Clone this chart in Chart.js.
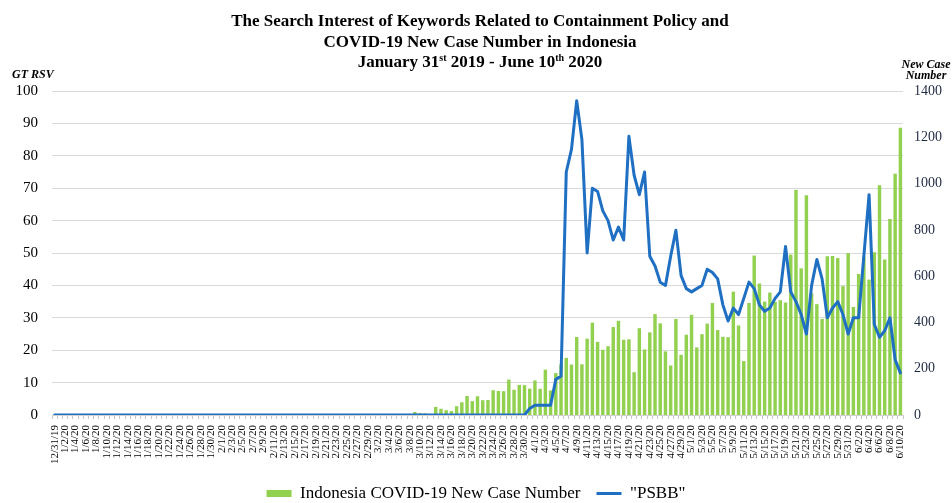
<!DOCTYPE html>
<html>
<head>
<meta charset="utf-8">
<script src="https://cdn.jsdelivr.net/npm/chart.js@4"></script>
<style>
  body { margin: 0; background: #fff; }
  canvas { display: block; }
</style>
</head>
<body>
<canvas id="trendChart" width="952" height="503"></canvas>
<script>
// daily categories 12/31/19 .. 6/10/20
var dateLabels = [];
var day = new Date(Date.UTC(2019, 11, 31));
var lastDay = Date.UTC(2020, 5, 10);
while (day.getTime() <= lastDay) {
    var yy = String(day.getUTCFullYear()).slice(2);
    dateLabels.push((day.getUTCMonth() + 1) + '/' + day.getUTCDate() + '/' + yy);
    day.setUTCDate(day.getUTCDate() + 1);
}

// Indonesia COVID-19 new cases (right axis)
var newCases = [
    0, 0, 0, 0, 0, 0, 0, 0, 0, 0, 0, 0, 0, 0, 0, 0, 0, 0, 0, 0, 0, 0, 0, 0, 0, 0, 0, 0, 0, 0, 0,
    0, 0, 0, 0, 0, 0, 0, 0, 0, 0, 0, 0, 0, 0, 0, 0, 0, 0, 0, 0, 0, 0, 0, 0, 0, 0, 0, 0, 0, 0, 0,
    2, 0, 0, 0, 2, 0, 2, 13, 8, 7, 0, 35, 27, 21, 17, 38, 55, 82, 60, 81, 64, 65, 107, 104, 103, 153, 109, 130, 129, 114,
    149, 113, 196, 106, 181, 218, 247, 218, 337, 219, 330, 399, 316, 282, 297, 380, 407, 325, 327, 185, 375, 283, 357, 436, 396, 275, 214, 415, 260, 347,
    433, 292, 349, 395, 484, 367, 338, 336, 533, 387, 233, 484, 689, 568, 490, 529, 489, 496, 486, 693, 973, 634, 949, 526, 479, 415, 686, 687, 678, 557, 700,
    467, 609, 684, 585, 703, 993, 672, 847, 1043, 1241
];

// Google Trends RSV for "PSBB" (left axis)
var psbbRsv = [
    0, 0, 0, 0, 0, 0, 0, 0, 0, 0, 0, 0, 0, 0, 0, 0, 0, 0, 0, 0, 0, 0, 0, 0, 0, 0, 0, 0, 0, 0,
    0, 0, 0, 0, 0, 0, 0, 0, 0, 0, 0, 0, 0, 0, 0, 0, 0, 0, 0, 0, 0, 0, 0, 0, 0, 0, 0, 0, 0, 0,
    0, 0, 0, 0, 0, 0, 0, 0, 0, 0, 0, 0, 0, 0, 0, 0, 0, 0, 0, 0, 0, 0, 0, 0, 0, 0, 0, 0, 0, 0,
    0, 2, 3, 3, 3, 3, 11, 12, 75, 82,
    97, 85, 50, 70, 69, 63, 60, 54, 58, 54,
    86, 74, 68, 75, 49, 46, 41, 40, 49, 57,
    43, 39, 38, 39, 40, 45, 44, 42, 34, 29,
    33, 31, 36, 41, 39, 34, 32, 33, 36, 38,
    52, 38, 35, 31, 25, 40, 48, 42, 30, 33,
    35, 31, 25, 30, 30, 49, 68, 28, 24, 26,
    30, 17, 13
];

var rsvTicks = [0, 10, 20, 30, 40, 50, 60, 70, 80, 90, 100];
var caseTicks = [0, 200, 400, 600, 800, 1000, 1200, 1400];

var serif = '"Liberation Serif", "Times New Roman", serif';

// title (with superscripts) and the two axis captions
var headerPlugin = {
    id: 'header',
    afterDraw: function(chart) {
        var ctx = chart.ctx;
        var cx = 480;
        ctx.save();
        ctx.fillStyle = '#000';
        ctx.textBaseline = 'alphabetic';
        ctx.textAlign = 'center';
        ctx.font = 'bold 17px ' + serif;
        ctx.fillText('The Search Interest of Keywords Related to Containment Policy and', cx, 26);
        ctx.fillText('COVID-19 New Case Number in Indonesia', cx, 47);

        var parts = [
            ['January 31', false], ['st', true], [' 2019 - June 10', false], ['th', true], [' 2020', false]
        ];
        var big = 'bold 17px ' + serif, small = 'bold 10px ' + serif;
        var total = 0;
        parts.forEach(function(p) {
            ctx.font = p[1] ? small : big;
            total += ctx.measureText(p[0]).width;
        });
        var x = cx - total / 2;
        ctx.textAlign = 'left';
        parts.forEach(function(p) {
            ctx.font = p[1] ? small : big;
            ctx.fillText(p[0], x, p[1] ? 61 : 67);
            x += ctx.measureText(p[0]).width;
        });

        ctx.font = 'italic bold 12px ' + serif;
        ctx.fillText('GT RSV', 12, 78);
        ctx.textAlign = 'center';
        ctx.fillText('New Case', 926, 68);
        ctx.fillText('Number', 926, 79);
        ctx.restore();
    }
};

var chartOptions = {
    type: 'bar',
    data: {
        labels: dateLabels,
        datasets: [{
            type: 'bar',
            label: 'Indonesia COVID-19 New Case Number',
            data: newCases,
            yAxisID: 'yCases',
            backgroundColor: '#92d050',
            borderWidth: 0,
            barPercentage: 0.66,
            categoryPercentage: 1.0,
            pointStyle: 'rect',
            order: 2
        }, {
            type: 'line',
            label: '"PSBB"',
            data: psbbRsv,
            yAxisID: 'yRsv',
            borderColor: '#1f6fc2',
            backgroundColor: '#1f6fc2',
            borderWidth: 3,
            borderJoinStyle: 'round',
            borderCapStyle: 'round',
            pointRadius: 0,
            tension: 0,
            pointStyle: 'line',
            order: 1
        }]
    },
    options: {
        responsive: false,
        animation: false,
        devicePixelRatio: 1,
        layout: {
            padding: { top: 91, left: 0, right: 0, bottom: -9 }
        },
        plugins: {
            title: { display: false },
            tooltip: { enabled: false },
            legend: {
                position: 'bottom',
                labels: {
                    usePointStyle: true,
                    pointStyleWidth: 25,
                    boxHeight: 7,
                    padding: 16,
                    color: '#000',
                    font: { family: serif, size: 17 },
                    sort: function(a, b) { return a.datasetIndex - b.datasetIndex; }
                }
            }
        },
        scales: {
            x: {
                offset: true,
                grid: {
                    offset: true,
                    drawOnChartArea: false,
                    drawTicks: true,
                    tickLength: 4,
                    color: '#c8c8c8'
                },
                border: { color: '#d0d0d0' },
                ticks: {
                    autoSkip: false,
                    minRotation: 90,
                    maxRotation: 90,
                    padding: 6,
                    color: '#000',
                    font: { family: serif, size: 11 },
                    callback: function(value, index) {
                        return index % 2 === 0 ? dateLabels[index] : '';
                    }
                },
                afterFit: function(scale) { scale.height = 54; }
            },
            yRsv: {
                position: 'left',
                min: 0,
                max: 100,
                afterBuildTicks: function(scale) {
                    scale.ticks = rsvTicks.map(function(v) { return { value: v }; });
                },
                grid: { color: '#d9d9d9', drawTicks: false },
                border: { display: false },
                ticks: {
                    padding: 14,
                    color: '#000',
                    font: { family: serif, size: 15 }
                },
                afterFit: function(scale) { scale.width = 52; }
            },
            yCases: {
                position: 'right',
                min: 0,
                max: 1400,
                afterBuildTicks: function(scale) {
                    scale.ticks = caseTicks.map(function(v) { return { value: v }; });
                },
                grid: { display: false, drawTicks: false },
                border: { display: false },
                ticks: {
                    padding: 11,
                    color: '#1f2a44',
                    font: { family: serif, size: 14 },
                    callback: function(value) { return String(value); }
                },
                afterFit: function(scale) { scale.width = 49; }
            }
        }
    },
    plugins: [headerPlugin]
};

var canvas = document.getElementById('trendChart');
var chart = new Chart(canvas, chartOptions);
</script>
</body>
</html>
